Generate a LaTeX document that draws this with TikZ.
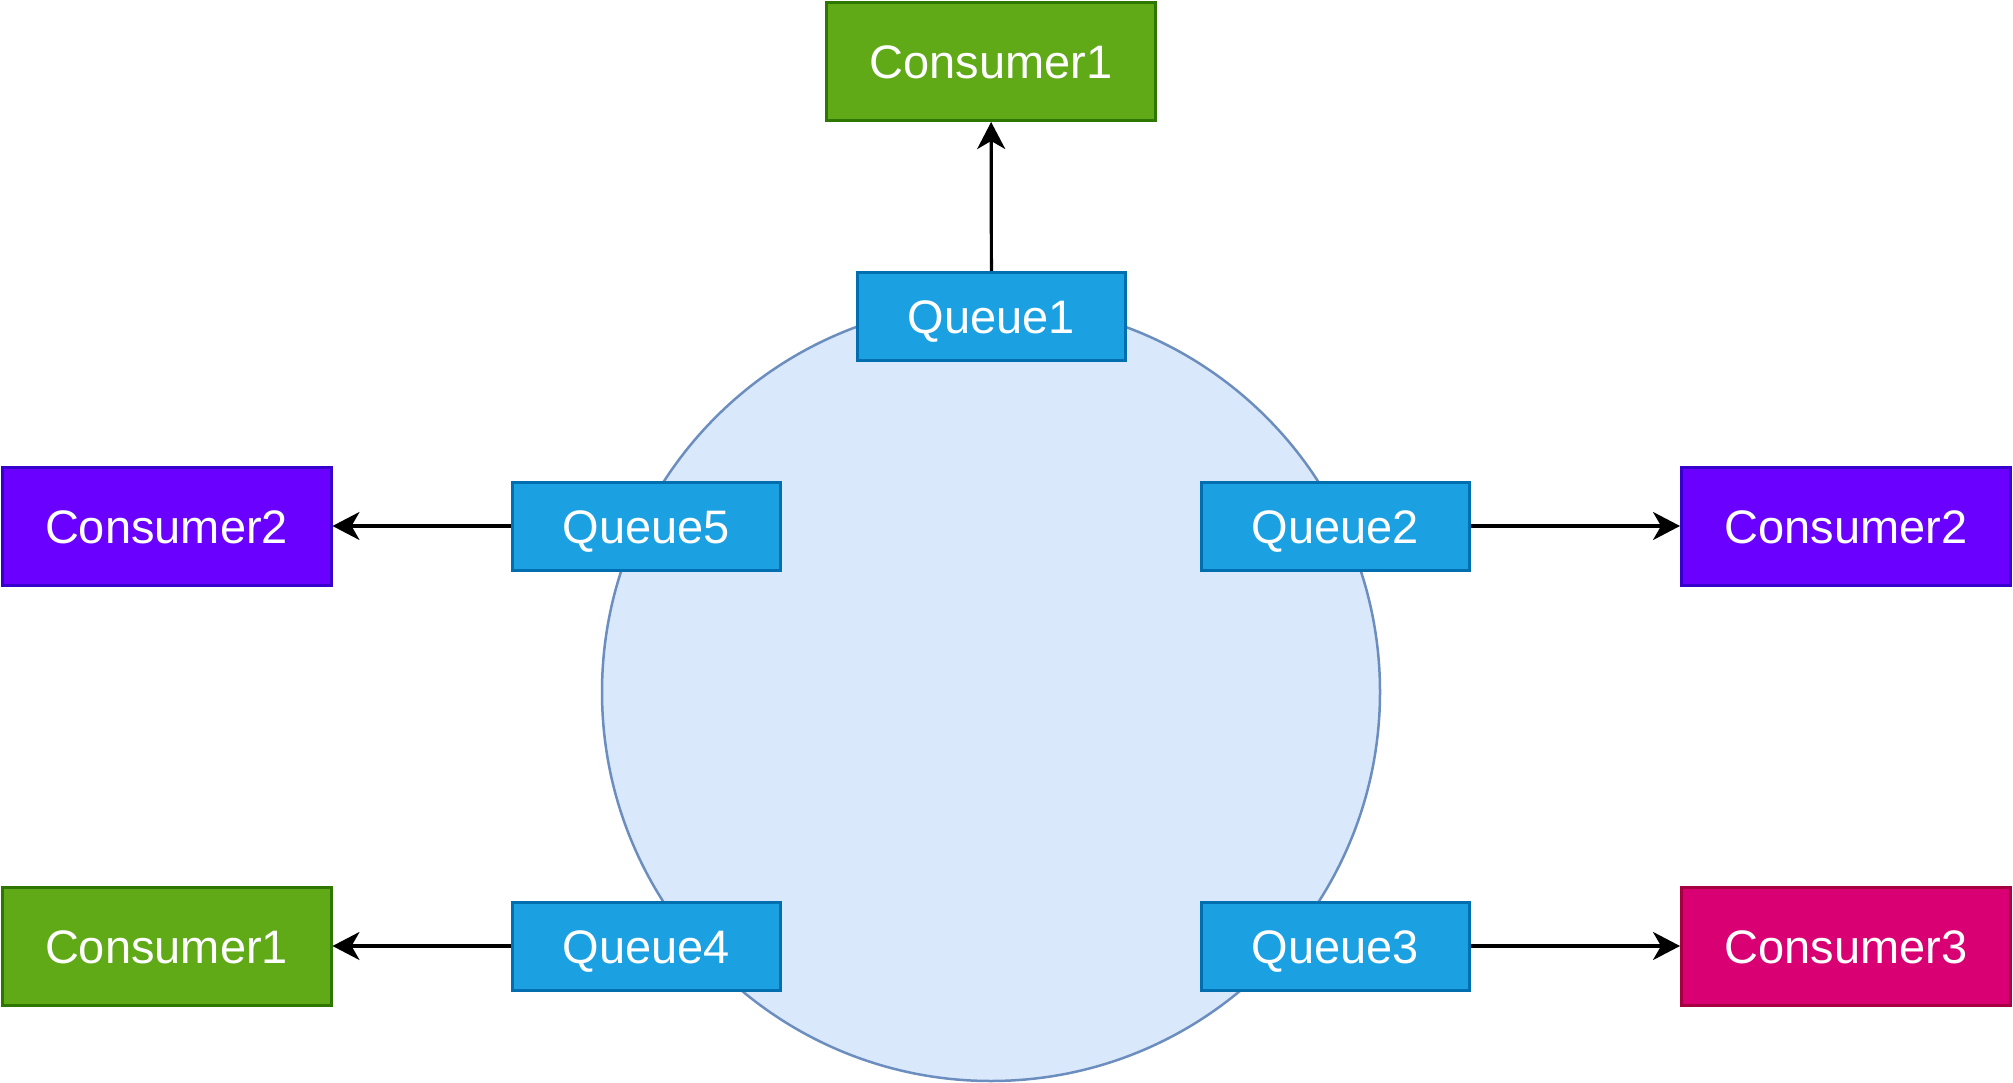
\documentclass[tikz,border=0pt]{standalone}
\usepackage{fontspec}
\setmainfont{Liberation Sans}
\usetikzlibrary{arrows.meta}
\definecolor{cgreen}{HTML}{60A917}
\definecolor{cgreenD}{HTML}{2D7600}
\definecolor{cpurple}{HTML}{6A00FF}
\definecolor{cpurpleD}{HTML}{3700CC}
\definecolor{cpink}{HTML}{D80073}
\definecolor{cpinkD}{HTML}{A50040}
\definecolor{cblue}{HTML}{1BA1E2}
\definecolor{cblueD}{HTML}{006EAF}
\definecolor{ringfill}{HTML}{DAE8FC}
\definecolor{ringline}{HTML}{6C8EBF}
\begin{document}
\begin{tikzpicture}[x=1pt,y=-1pt,
  box/.style={draw, line width=3pt, text=white, inner sep=0pt,
    text height=34pt, text depth=0pt,
    font=\fontsize{47}{56}\selectfont},
  consumer/.style={box, minimum width=329pt, minimum height=118pt},
  queue/.style={box, fill=cblue, draw=cblueD, minimum width=268pt, minimum height=88pt},
  green/.style={fill=cgreen, draw=cgreenD},
  purple/.style={fill=cpurple, draw=cpurpleD},
  pink/.style={fill=cpink, draw=cpinkD},
  link/.style={line width=3.2pt, -{Stealth[length=27pt, width=28pt, inset=8pt]}}
]
\useasboundingbox (0,0) rectangle (2013,1083);
\node[circle, fill=ringfill, draw=ringline, line width=2.5pt, minimum size=778pt, inner sep=0pt] (ring) at (991,692) {};

\node[consumer, green] (c1t) at (991,61.5) {Consumer1};
\node[consumer, purple] (c2l) at (166.5,526.5) {Consumer2};
\node[consumer, purple] (c2r) at (1846,526.5) {Consumer2};
\node[consumer, green] (c1l) at (166.5,946) {Consumer1};
\node[consumer, pink] (c3) at (1846,946) {Consumer3};

\node[queue] (q1) at (991.5,316.5) {Queue1};
\node[queue] (q5) at (646.5,526) {Queue5};
\node[queue] (q2) at (1335.5,526) {Queue2};
\node[queue] (q4) at (646.5,946) {Queue4};
\node[queue] (q3) at (1335.5,946) {Queue3};

\draw[link] (q1) -- (c1t);
\draw[link] (q5) -- (q5 -| c2l.east);
\draw[link] (q2) -- (q2 -| c2r.west);
\draw[link] (q4) -- (c1l);
\draw[link] (q3) -- (c3);
\end{tikzpicture}
\end{document}
